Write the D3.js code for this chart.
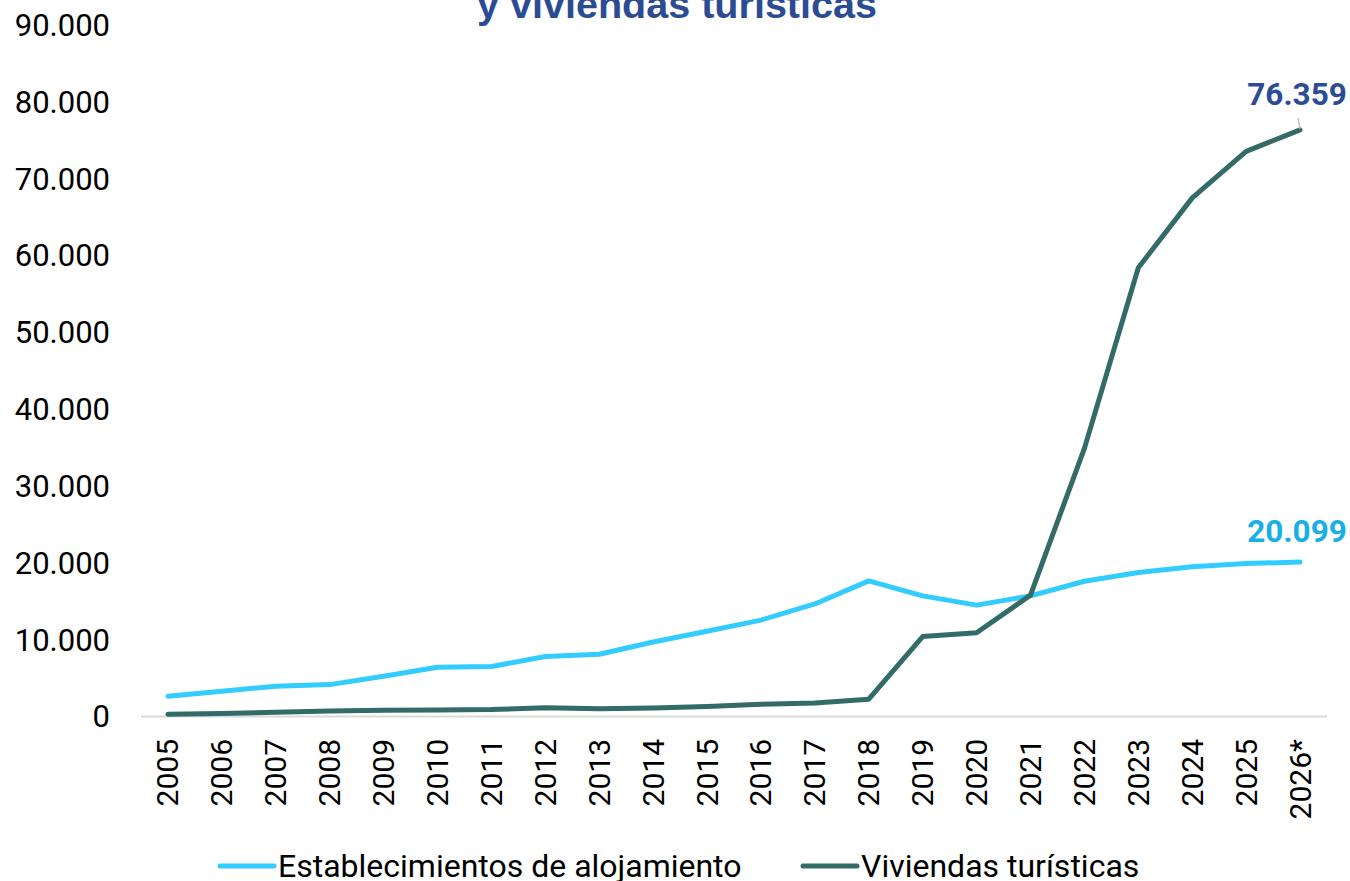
<!DOCTYPE html>
<html>
<head>
<meta charset="utf-8">
<script src="https://cdn.jsdelivr.net/npm/d3@7"></script>
<style>
  body { margin: 0; background: #fff; }
  svg { display: block; font-family: Roboto, "Noto Sans", sans-serif; }
</style>
</head>
<body>
<script>
var width = 1350,
    height = 881;

// data
var years = ["2005", "2006", "2007", "2008", "2009", "2010", "2011", "2012", "2013", "2014", "2015",
             "2016", "2017", "2018", "2019", "2020", "2021", "2022", "2023", "2024", "2025", "2026*"];
var establecimientos = [2650, 3300, 3950, 4150, 5250, 6400, 6500, 7800, 8100, 9700, 11100,
                        12550, 14650, 17650, 15700, 14500, 15700, 17600, 18750, 19500, 19900, 20099];
var viviendas = [300, 400, 550, 700, 800, 850, 900, 1150, 1000, 1100, 1300,
                 1600, 1750, 2250, 10400, 10900, 15800, 34900, 58400, 67500, 73550, 76359];
var yTicks = [0, 10000, 20000, 30000, 40000, 50000, 60000, 70000, 80000, 90000];
var seriesNames = ["Establecimientos de alojamiento", "Viviendas turísticas"];

var svg = d3.select("body").append("svg")
    .attr("width", width)
    .attr("height", height);

var x = d3.scalePoint()
    .domain(years)
    .range([141, 1327])
    .padding(0.5);

var y = d3.scaleLinear()
    .domain([0, 90000])
    .range([716.5, 25]);

var fmt = function(v) { return d3.format(",")(v).replace(/,/g, "."); };

// title (first line falls outside the picture)
svg.append("text")
    .attr("x", 677)
    .attr("y", 18)
    .attr("text-anchor", "middle")
    .attr("textLength", 400)
    .attr("lengthAdjust", "spacingAndGlyphs")
    .style("font-family", "'Liberation Sans', Arial, sans-serif")
    .style("font-weight", "bold")
    .style("font-size", "38px")
    .style("fill", "#2B4C93")
    .text("y viviendas turísticas");

// y labels
svg.selectAll(".ytick")
    .data(yTicks)
  .enter().append("text")
    .attr("class", "ytick")
    .attr("x", 110)
    .attr("y", function(d) { return y(d); })
    .attr("dy", ".35em")
    .attr("text-anchor", "end")
    .style("font-size", "31px")
    .style("fill", "#000")
    .text(function(d) { return fmt(d); });

// x axis line
svg.append("line")
    .attr("x1", 141)
    .attr("x2", 1327)
    .attr("y1", y(0))
    .attr("y2", y(0))
    .style("stroke", "#d9d9d9")
    .style("stroke-width", 2);

// x labels, rotated
svg.selectAll(".xtick")
    .data(years)
  .enter().append("text")
    .attr("class", "xtick")
    .attr("transform", function(d) { return "translate(" + x(d) + ",739) rotate(-90)"; })
    .attr("dy", ".35em")
    .attr("text-anchor", "end")
    .style("font-size", "30px")
    .style("fill", "#000")
    .text(function(d) { return d; });

var line = d3.line()
    .x(function(d, i) { return x(years[i]); })
    .y(function(d) { return y(d); });

svg.append("path")
    .datum(establecimientos)
    .attr("d", line)
    .style("fill", "none")
    .style("stroke", "#33CCFF")
    .style("stroke-width", 5)
    .style("stroke-linejoin", "round")
    .style("stroke-linecap", "round");

svg.append("path")
    .datum(viviendas)
    .attr("d", line)
    .style("fill", "none")
    .style("stroke", "#336B68")
    .style("stroke-width", 5)
    .style("stroke-linejoin", "round")
    .style("stroke-linecap", "round");

// end labels
var last = years.length - 1;
svg.append("line")
    .attr("x1", x(years[last]) - 2)
    .attr("y1", y(viviendas[last]) - 12)
    .attr("x2", x(years[last]))
    .attr("y2", y(viviendas[last]) - 1)
    .style("stroke", "#bfbfbf")
    .style("stroke-width", 1.5);

svg.append("text")
    .attr("x", x(years[last]) - 3)
    .attr("y", 105)
    .attr("text-anchor", "middle")
    .style("font-size", "31.5px")
    .style("font-weight", "bold")
    .style("fill", "#2B4D96")
    .text(fmt(viviendas[last]));

svg.append("text")
    .attr("x", x(years[last]) - 3)
    .attr("y", 542)
    .attr("text-anchor", "middle")
    .style("font-size", "31.5px")
    .style("font-weight", "bold")
    .style("fill", "#18AFE6")
    .text(fmt(establecimientos[last]));

// legend
var legend = [
  { name: seriesNames[0], color: "#33CCFF", x: 220 },
  { name: seriesNames[1], color: "#336B68", x: 803 }
];

var lg = svg.selectAll(".legend")
    .data(legend)
  .enter().append("g")
    .attr("class", "legend")
    .attr("transform", function(d) { return "translate(" + d.x + ",866)"; });

lg.append("line")
    .attr("x1", 0)
    .attr("x2", 54)
    .style("stroke", function(d) { return d.color; })
    .style("stroke-width", 5)
    .style("stroke-linecap", "round");

lg.append("text")
    .attr("x", 58)
    .attr("dy", ".35em")
    .style("font-size", "32px")
    .style("fill", "#000")
    .text(function(d) { return d.name; });
</script>
</body>
</html>
